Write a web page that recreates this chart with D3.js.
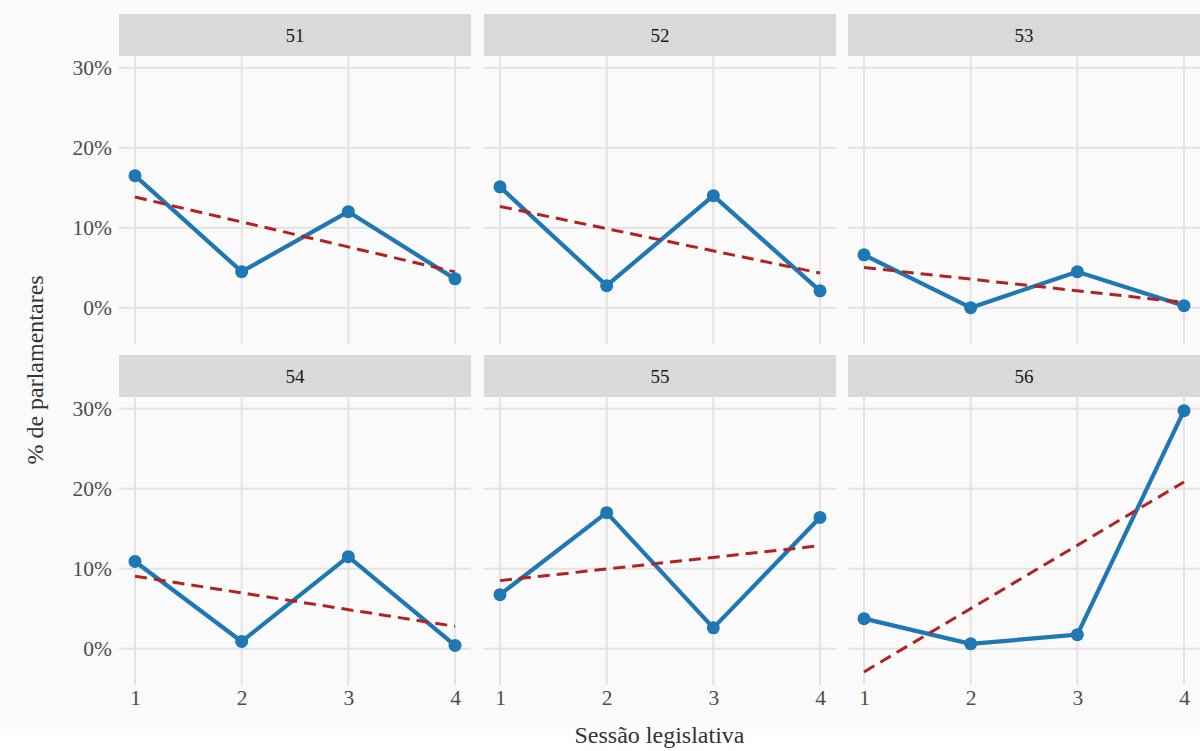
<!DOCTYPE html>
<html><head><meta charset="utf-8">
<script src="https://cdn.jsdelivr.net/npm/d3@7"></script>
<style>
html,body{margin:0;padding:0;background:#fafafa;}
svg{display:block;}
</style></head>
<body>
<svg id="chart" width="1200" height="751"></svg>
<script>
// ---- data ----
const legislaturas = ["51","52","53","54","55","56"];
const sessoes = [1, 2, 3, 4];
const pct51 = [16.5, 4.5, 12.0, 3.6];
const pct52 = [15.1, 2.75, 14.0, 2.1];
const pct53 = [6.6, 0.0, 4.5, 0.25];
const pct54 = [10.9, 0.9, 11.5, 0.4];
const pct55 = [6.75, 17.0, 2.6, 16.4];
const pct56 = [3.75, 0.6, 1.75, 29.75];
const yTicks = [0, 10, 20, 30];
const yTickLabels = ["0%", "10%", "20%", "30%"];
const xTickLabels = ["1", "2", "3", "4"];
const series = [pct51, pct52, pct53, pct54, pct55, pct56];

// linear regression (geom_smooth method = "lm")
function lm(xs, ys) {
  const mx = d3.mean(xs), my = d3.mean(ys);
  const b = d3.sum(xs.map((x, i) => (x - mx) * (ys[i] - my))) / d3.sum(xs.map(x => (x - mx) ** 2));
  return { a: my - b * mx, b };
}
const fits = series.map(s => lm(sessoes, s));

const svg = d3.select("#chart");
const W = 1200, H = 751;

const defs = svg.append("defs");
const grad = defs.append("linearGradient").attr("id", "fade").attr("x1", 0).attr("x2", 0).attr("y1", 0).attr("y2", 1);
grad.append("stop").attr("offset", "0%").attr("stop-color", "#fafafa");
grad.append("stop").attr("offset", "100%").attr("stop-color", "#ffffff");
svg.append("rect").attr("x", 0).attr("y", 0).attr("width", W).attr("height", H).attr("fill", "#fafafa");
svg.append("rect").attr("x", 0).attr("y", 712).attr("width", W).attr("height", 30).attr("fill", "url(#fade)");
svg.append("rect").attr("x", 0).attr("y", 742).attr("width", W).attr("height", 9).attr("fill", "#ffffff");

const colX = [119, 484, 848];
const panelW = 352;
const rowTop = [56.6, 397.6];
const panelH = 287.4;
const stripH = 42;

const allVals = series.flat().concat(fits.flatMap(f => [f.a + f.b * 1, f.a + f.b * 4]));
const yMin = d3.min(allVals), yMax = d3.max(allVals);
const yPad = (yMax - yMin) * 0.05;
const xPad = (4 - 1) * 0.05;

const font = '"Liberation Serif"';

legislaturas.forEach((leg, i) => {
  const col = i % 3, row = Math.floor(i / 3);
  const x0 = colX[col], y0 = rowTop[row];
  const x = d3.scaleLinear().domain([1 - xPad, 4 + xPad]).range([x0, x0 + panelW]);
  const y = d3.scaleLinear().domain([yMin - yPad, yMax + yPad]).range([y0 + panelH, y0]);
  const g = svg.append("g");

  g.selectAll(".hg").data(yTicks).join("line")
    .attr("x1", x0).attr("x2", x0 + panelW)
    .attr("y1", d => y(d)).attr("y2", d => y(d))
    .attr("stroke", "#e3e3e3").attr("stroke-width", 2);
  g.selectAll(".vg").data(sessoes).join("line")
    .attr("x1", d => x(d)).attr("x2", d => x(d))
    .attr("y1", y0).attr("y2", y0 + panelH)
    .attr("stroke", "#e3e3e3").attr("stroke-width", 2);

  g.append("rect").attr("x", x0).attr("y", y0 - stripH - 0.6).attr("width", panelW).attr("height", stripH)
    .attr("fill", "#d9d9d9");
  g.append("text").attr("x", x0 + panelW / 2).attr("y", y0 - stripH / 2 + 6)
    .attr("text-anchor", "middle")
    .style("font-family", font).attr("font-size", 19).attr("fill", "#1a1a1a").text(leg);

  if (col === 0) {
    const ax = d3.axisLeft(y).tickValues(yTicks).tickFormat((d, k) => yTickLabels[k]).tickSize(0).tickPadding(7);
    const ag = g.append("g").attr("transform", `translate(${x0},0)`).call(ax);
    ag.select(".domain").remove();
    ag.style("font-family", font);
    ag.selectAll("text").style("font-family", font).attr("font-size", 21.5).attr("fill", "#4d4d4d");
  }
  if (row === 1) {
    const ax = d3.axisBottom(x).tickValues(sessoes).tickFormat((d, k) => xTickLabels[k]).tickSize(0).tickPadding(5);
    const ag = g.append("g").attr("transform", `translate(0,${y0 + panelH})`).call(ax);
    ag.select(".domain").remove();
    ag.style("font-family", font);
    ag.selectAll("text").style("font-family", font).attr("font-size", 21.5).attr("fill", "#4d4d4d");
  }

  const vals = series[i];
  const line = d3.line().x((d, k) => x(sessoes[k])).y(d => y(d));
  g.append("path").datum(vals).attr("d", line)
    .attr("fill", "none").attr("stroke", "#1f77b4").attr("stroke-width", 4.2).attr("stroke-linejoin", "round");

  const f = fits[i];
  g.append("line")
    .attr("x1", x(1)).attr("y1", y(f.a + f.b * 1))
    .attr("x2", x(4)).attr("y2", y(f.a + f.b * 4))
    .attr("stroke", "#b22222").attr("stroke-width", 3).attr("stroke-dasharray", "12,7");

  g.selectAll(".pt").data(vals).join("circle")
    .attr("cx", (d, k) => x(sessoes[k])).attr("cy", d => y(d)).attr("r", 6.5)
    .attr("fill", "#1f77b4");
});

svg.append("text").attr("x", (colX[0] + colX[2] + panelW) / 2).attr("y", 743)
  .attr("text-anchor", "middle").style("font-family", font).attr("font-size", 24).attr("fill", "#333")
  .text("Sessão legislativa");
svg.append("text").attr("transform", "translate(43,370) rotate(-90)")
  .attr("text-anchor", "middle").style("font-family", font).attr("font-size", 24).attr("fill", "#333")
  .text("% de parlamentares");
</script>
</body></html>
